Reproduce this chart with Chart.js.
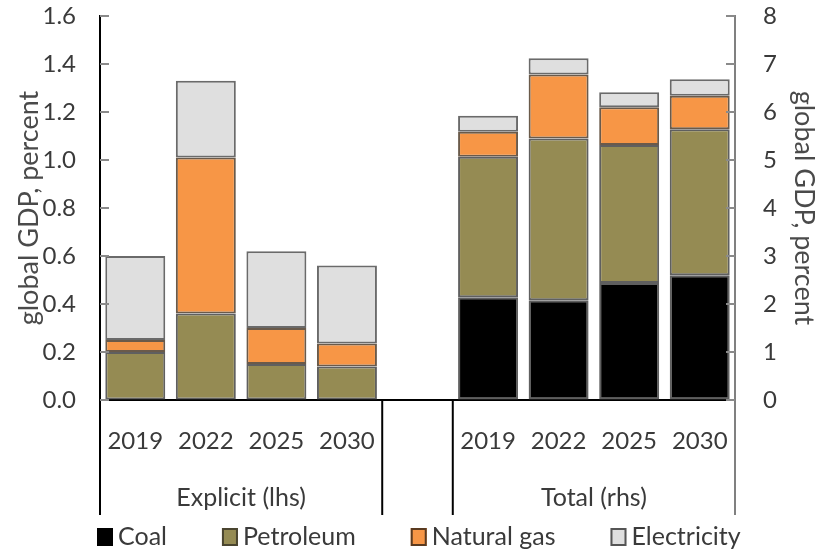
<!DOCTYPE html>
<html>
<head>
<meta charset="utf-8">
<script src="https://cdn.jsdelivr.net/npm/chart.js@4.4.0/dist/chart.umd.min.js"></script>
<style>
  html, body { margin: 0; padding: 0; background: #fff; }
  #wrap { width: 820px; height: 550px; }
</style>
</head>
<body>
<div id="wrap"><canvas id="c"></canvas></div>
<script>
const years = ["2019", "2022", "2025", "2030"];
const groups = ["Explicit (lhs)", "Total (rhs)"];
const series = ["Coal", "Petroleum", "Natural gas", "Electricity"];

// Explicit subsidies, % of global GDP (left axis)
const explicitCoal  = [0.00, 0.00, 0.00, 0.00];
const explicitPetro = [0.20, 0.36, 0.15, 0.14];
const explicitGas   = [0.05, 0.65, 0.15, 0.095];
const explicitElec  = [0.35, 0.32, 0.32, 0.325];

// Total subsidies, % of global GDP (right axis)
const totalCoal  = [2.14, 2.08, 2.44, 2.60];
const totalPetro = [2.93, 3.37, 2.87, 3.04];
const totalGas   = [0.52, 1.33, 0.79, 0.70];
const totalElec  = [0.33, 0.34, 0.31, 0.34];

const FILL = ["#000000", "#958B53", "#F79646", "#DFDFDF"];
const EDGE = ["#5f5f5f", "#5f5f5f", "#6a5a4a", "#6a6a6a"];
const FONT = "Lato, 'Open Sans', sans-serif";
const TXT = "#3a3a3a";

const labels = [...years, "", ...years];
const pad = n => Array(n).fill(null);

const explicitSets = [explicitCoal, explicitPetro, explicitGas, explicitElec];
const totalSets = [totalCoal, totalPetro, totalGas, totalElec];

const datasets = [];
explicitSets.forEach((vals, i) => datasets.push({
  label: series[i],
  data: [...vals, ...pad(5)],
  yAxisID: "y",
  stack: "s",
  backgroundColor: FILL[i],
  borderColor: EDGE[i],
  borderWidth: 2,
  borderSkipped: false
}));
totalSets.forEach((vals, i) => datasets.push({
  label: series[i] + " (total)",
  data: [...pad(5), ...vals],
  yAxisID: "y1",
  stack: "s",
  backgroundColor: FILL[i],
  borderColor: EDGE[i],
  borderWidth: 2,
  borderSkipped: false
}));

// separators + group labels under the category axis, and the legend
const extras = {
  id: "extras",
  afterDraw(chart) {
    const ctx = chart.ctx;
    const xs = chart.scales.x;
    const ca = chart.chartArea;
    const cw = (xs.right - xs.left) / labels.length;
    const lines = [xs.left, xs.left + 4 * cw, xs.left + 5 * cw, xs.right];
    ctx.save();
    lines.forEach((x, i) => {
      ctx.beginPath();
      ctx.strokeStyle = i === 3 ? "#808080" : "#000";
      ctx.lineWidth = 2;
      ctx.moveTo(x, ca.bottom);
      ctx.lineTo(x, ca.bottom + 115);
      ctx.stroke();
    });

    // small inside tick marks on both value axes
    const yl = chart.scales.y, yr = chart.scales.y1;
    ctx.strokeStyle = "#8a8a8a";
    ctx.lineWidth = 2;
    yl.ticks.forEach(t => {
      const py = yl.getPixelForValue(t.value);
      ctx.beginPath(); ctx.moveTo(yl.right, py); ctx.lineTo(yl.right + 9, py); ctx.stroke();
    });
    yr.ticks.forEach(t => {
      const py = yr.getPixelForValue(t.value);
      ctx.beginPath(); ctx.moveTo(yr.left - 9, py); ctx.lineTo(yr.left, py); ctx.stroke();
    });

    ctx.fillStyle = TXT;
    ctx.font = "25px " + FONT;
    ctx.textAlign = "center";
    ctx.textBaseline = "middle";
    ctx.fillText(groups[0], xs.left + 2 * cw, ca.bottom + 98);
    ctx.fillText(groups[1], xs.left + 7 * cw, ca.bottom + 98);

    // legend
    ctx.font = "25px " + FONT;
    ctx.textAlign = "left";
    let x = xs.left - 3;
    const y = ca.bottom + 137;
    series.forEach((name, i) => {
      ctx.fillStyle = FILL[i];
      ctx.fillRect(x, y - 9, 16, 18);
      if (i > 0) {
        ctx.strokeStyle = i === 1 ? "#4a4530" : i === 2 ? "#5a3a20" : "#555";
        ctx.lineWidth = 2;
        ctx.strokeRect(x + 1, y - 8, 14, 16);
      }
      ctx.fillStyle = TXT;
      ctx.fillText(name, x + 21, y);
      x += 21 + ctx.measureText(name).width + 55;
    });
    ctx.restore();
  }
};

new Chart(document.getElementById("c"), {
  type: "bar",
  data: { labels, datasets },
  plugins: [extras],
  options: {
    responsive: true,
    maintainAspectRatio: false,
    animation: false,
    layout: { padding: { top: 16, left: 0, right: 0, bottom: 0 } },
    plugins: { legend: { display: false }, tooltip: { enabled: false } },
    datasets: { bar: { categoryPercentage: 1, barPercentage: 0.85 } },
    scales: {
      x: {
        stacked: true,
        grid: { display: false },
        border: { display: true, color: "#000", width: 2 },
        ticks: { color: TXT, font: { family: FONT, size: 24 }, padding: 19, maxRotation: 0, autoSkip: false },
        afterFit: s => { s.height = 150; }
      },
      y: {
        position: "left",
        stacked: true,
        min: 0, max: 1.6,
        grid: { display: true, drawOnChartArea: false, drawTicks: true, tickLength: 23, color: "rgba(0,0,0,0)" },
        border: { display: true, color: "#000", width: 2 },
        ticks: { stepSize: 0.2, color: TXT, padding: 1, font: { family: FONT, size: 24 },
                 callback: v => v.toFixed(1) },
        title: { display: true, text: "global GDP, percent", color: "#4a4a4a",
                 font: { family: FONT, size: 27 }, padding: { top: 13, bottom: 0 } },
        afterFit: s => { s.width = 100; }
      },
      y1: {
        position: "right",
        stacked: true,
        min: 0, max: 8,
        grid: { display: true, drawOnChartArea: false, drawTicks: true, tickLength: 27, color: "rgba(0,0,0,0)" },
        border: { display: true, color: "#808080", width: 2 },
        ticks: { stepSize: 1, color: TXT, padding: 1, font: { family: FONT, size: 24 } },
        title: { display: true, text: "global GDP, percent", color: "#4a4a4a",
                 font: { family: FONT, size: 27 }, padding: { top: 0, bottom: 0 } },
        afterFit: s => { s.width = 85; }
      }
    }
  }
});
</script>
</body>
</html>
